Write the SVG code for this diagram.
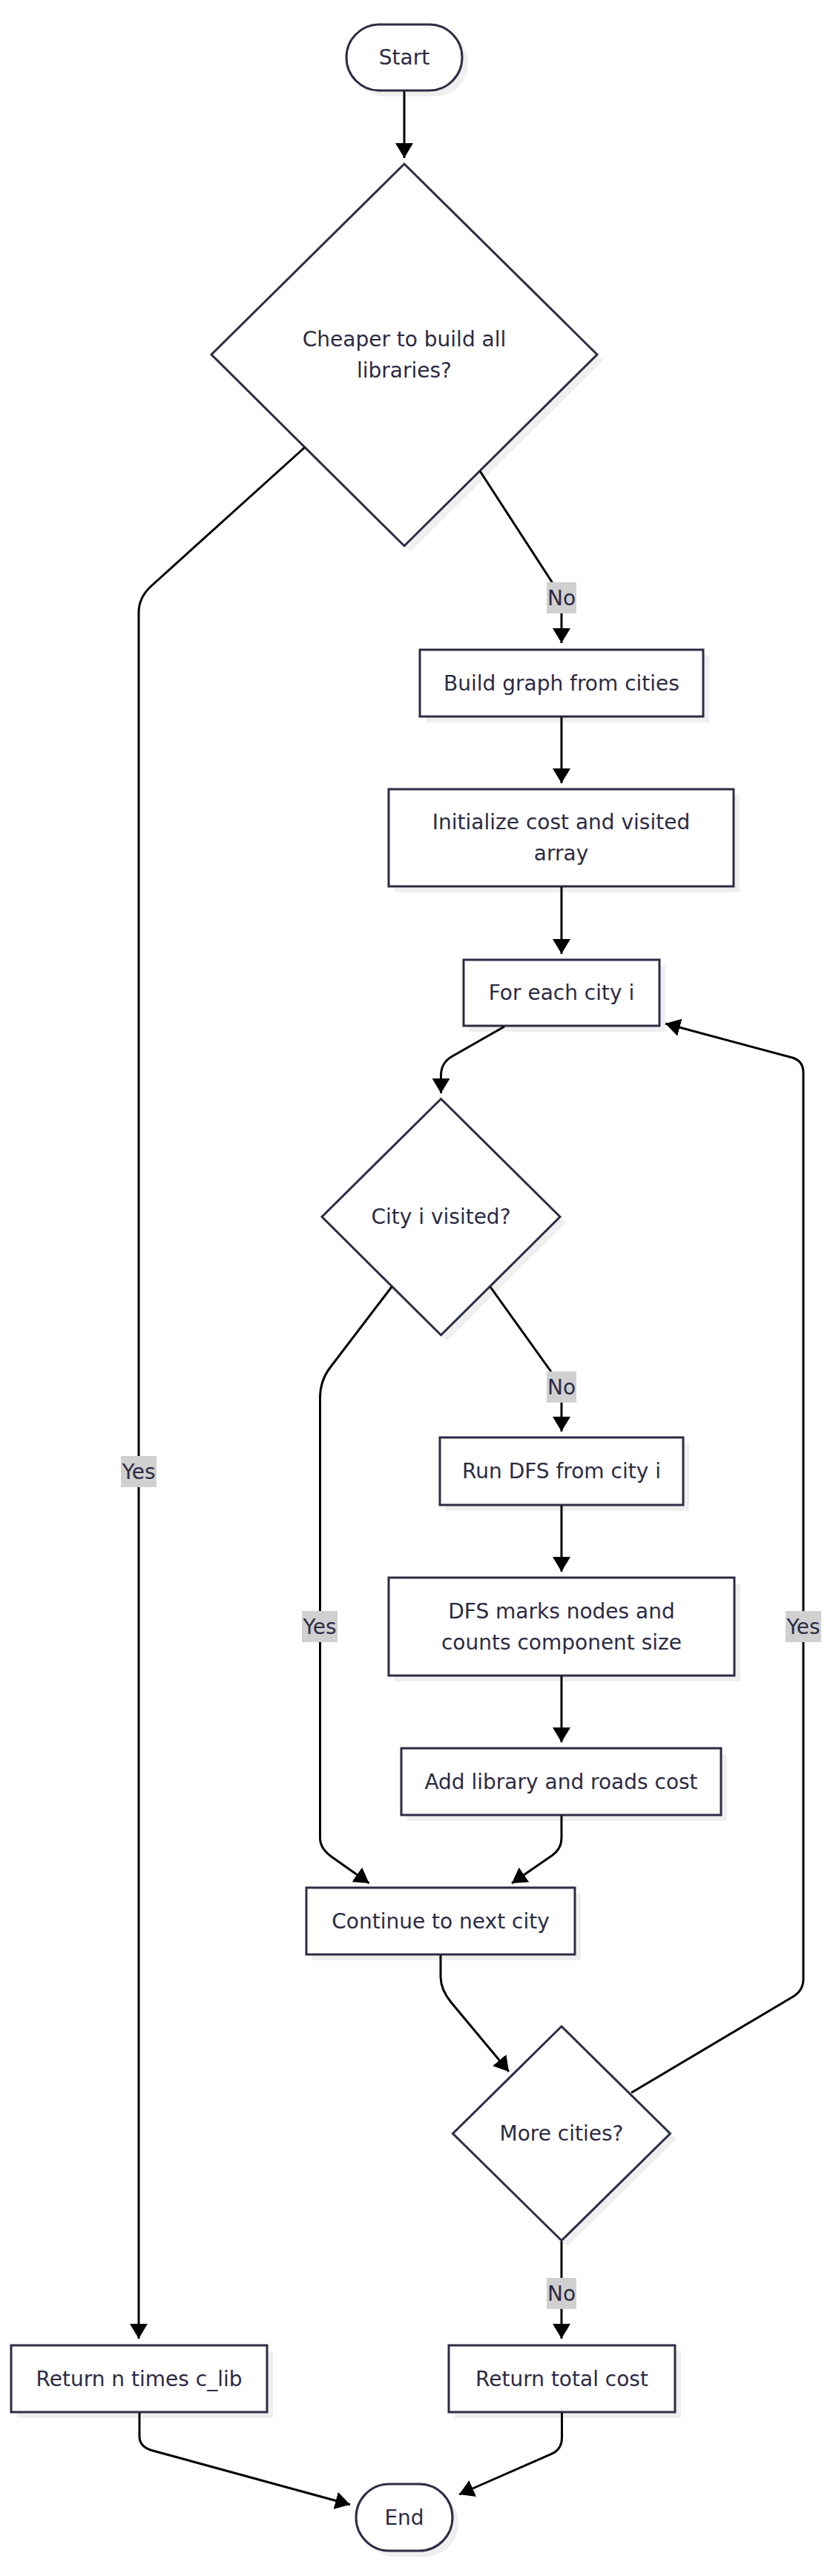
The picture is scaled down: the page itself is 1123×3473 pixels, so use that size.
<svg xmlns="http://www.w3.org/2000/svg" width="1123" height="3473" viewBox="0 0 1123 3473">
<style>
.sh{fill:#efefef;stroke:none}
.nd{fill:#ffffff;stroke:#2c2c46;stroke-width:3}
.tx{font-family:"DejaVu Sans",sans-serif;font-size:28px;fill:#2b2b45;text-anchor:middle}
.ed{fill:none;stroke:#000;stroke-width:3}
.lb{fill:#d0d0d0}
.lt{font-family:"DejaVu Sans",sans-serif;font-size:28px;fill:#2b2b45;text-anchor:middle}
</style>
<defs>
<marker id="ah" markerUnits="userSpaceOnUse" viewBox="0 0 20 24" markerWidth="20" markerHeight="24" refX="20" refY="12" orient="auto">
<path d="M0,0 L20,12 L0,24 z" fill="#000"/>
</marker>
</defs>
<rect width="1123" height="3473" fill="#ffffff"/>

<g id="start">
<rect class="sh" x="475" y="41" width="156" height="89" rx="44.5"/>
<rect class="nd" x="467" y="33" width="156" height="89" rx="44.5"/>
<text class="tx" x="545" y="87">Start</text>
</g>

<g id="cheaper">
<polygon class="sh" points="553,229 813,486 553,744 293,486"/>
<polygon class="nd" points="545,221 805,478 545,736 285,478"/>
<text class="tx" x="545" y="466.5">Cheaper to build all</text>
<text class="tx" x="545" y="508.5">libraries?</text>
</g>

<g id="build-graph">
<rect class="sh" x="574" y="884" width="382" height="90"/>
<rect class="nd" x="566" y="876" width="382" height="90"/>
<text class="tx" x="757" y="930.5">Build graph from cities</text>
</g>

<g id="init">
<rect class="sh" x="532" y="1072" width="465" height="131"/>
<rect class="nd" x="524" y="1064" width="465" height="131"/>
<text class="tx" x="756.5" y="1118">Initialize cost and visited</text>
<text class="tx" x="756.5" y="1160">array</text>
</g>

<g id="for-each">
<rect class="sh" x="633" y="1302" width="264" height="89"/>
<rect class="nd" x="625" y="1294" width="264" height="89"/>
<text class="tx" x="757" y="1348">For each city i</text>
</g>

<g id="visited">
<polygon class="sh" points="602.5,1489.5 763,1648.5 602.5,1808 442,1648.5"/>
<polygon class="nd" points="594.5,1481.5 755,1640.5 594.5,1800 434,1640.5"/>
<text class="tx" x="594.5" y="1650">City i visited?</text>
</g>

<g id="run-dfs">
<rect class="sh" x="601" y="1946" width="328" height="91"/>
<rect class="nd" x="593" y="1938" width="328" height="91"/>
<text class="tx" x="757" y="1993">Run DFS from city i</text>
</g>

<g id="dfs-marks">
<rect class="sh" x="532" y="2135" width="466" height="132"/>
<rect class="nd" x="524" y="2127" width="466" height="132"/>
<text class="tx" x="757" y="2181.5">DFS marks nodes and</text>
<text class="tx" x="757" y="2223.5">counts component size</text>
</g>

<g id="add-cost">
<rect class="sh" x="549" y="2365" width="431" height="90"/>
<rect class="nd" x="541" y="2357" width="431" height="90"/>
<text class="tx" x="756.5" y="2411.5">Add library and roads cost</text>
</g>

<g id="continue">
<rect class="sh" x="421" y="2553" width="362" height="90"/>
<rect class="nd" x="413" y="2545" width="362" height="90"/>
<text class="tx" x="594" y="2599.5">Continue to next city</text>
</g>

<g id="more-cities">
<polygon class="sh" points="765,2740 911.5,2884.5 765,3028.7 618.5,2884.5"/>
<polygon class="nd" points="757,2732 903.5,2876.5 757,3020.7 610.5,2876.5"/>
<text class="tx" x="757" y="2886">More cities?</text>
</g>

<g id="return-lib">
<rect class="sh" x="23" y="3170" width="345" height="90"/>
<rect class="nd" x="15" y="3162" width="345" height="90"/>
<text class="tx" x="187.5" y="3216.5">Return n times c_lib</text>
</g>

<g id="return-total">
<rect class="sh" x="613" y="3170" width="305" height="90"/>
<rect class="nd" x="605" y="3162" width="305" height="90"/>
<text class="tx" x="757.5" y="3216.5">Return total cost</text>
</g>

<g id="end">
<rect class="sh" x="488" y="3357" width="130" height="90" rx="45"/>
<rect class="nd" x="480" y="3349" width="130" height="90" rx="45"/>
<text class="tx" x="545" y="3403.5">End</text>
</g>

<g id="connectors">
<path class="ed" marker-end="url(#ah)" d="M545,123 L545,213"/>
<path class="ed" marker-end="url(#ah)" d="M411,603 L204,790 Q187,805.4 187,826 L187,3153"/>
<path class="ed" marker-end="url(#ah)" d="M647,635 L743,783 Q757,805 757,822 L757,867"/>
<path class="ed" marker-end="url(#ah)" d="M757,967 L757,1056"/>
<path class="ed" marker-end="url(#ah)" d="M757,1196 L757,1286"/>
<path class="ed" marker-end="url(#ah)" d="M680,1384 L609,1424.5 Q594.5,1433 594.5,1450 L594.5,1474"/>
<path class="ed" marker-end="url(#ah)" d="M528,1735 L445.6,1843 Q431.5,1861 431.5,1885 L431.5,2478 Q431.5,2492 446.6,2503 L497.6,2539"/>
<path class="ed" marker-end="url(#ah)" d="M661,1735 L742,1848 Q757,1869 757,1885 L757,1930"/>
<path class="ed" marker-end="url(#ah)" d="M757,2030 L757,2119"/>
<path class="ed" marker-end="url(#ah)" d="M757,2260 L757,2349"/>
<path class="ed" marker-end="url(#ah)" d="M757,2448 L757,2478 Q757,2492.6 744,2501.7 L690,2539"/>
<path class="ed" marker-end="url(#ah)" d="M594,2636 L594,2665 Q594,2682.5 608.5,2700 L686,2793"/>
<path class="ed" marker-end="url(#ah)" d="M851,2821.5 L1069,2692 Q1083,2683.7 1083,2668 L1083,1446 Q1083,1430 1067.5,1425.8 L897,1380"/>
<path class="ed" marker-end="url(#ah)" d="M757,3022 L757,3153"/>
<path class="ed" marker-end="url(#ah)" d="M188,3253 L188,3285 Q188,3299 206,3304 L472,3376.7"/>
<path class="ed" marker-end="url(#ah)" d="M757.5,3253 L757.5,3287 Q757.5,3302.4 743,3308.7 L619,3363"/>
<g id="edge-labels">
<rect class="lb" x="737" y="785" width="40" height="42"/><text class="lt" x="757" y="816">No</text>
<rect class="lb" x="163" y="1963" width="48" height="42"/><text class="lt" x="187" y="1994">Yes</text>
<rect class="lb" x="737" y="1849" width="40" height="42"/><text class="lt" x="757" y="1880">No</text>
<rect class="lb" x="407" y="2172" width="48" height="42"/><text class="lt" x="431" y="2203">Yes</text>
<rect class="lb" x="1059" y="2172" width="48" height="42"/><text class="lt" x="1083" y="2203">Yes</text>
<rect class="lb" x="737" y="3071" width="40" height="42"/><text class="lt" x="757" y="3102">No</text>
</g>
</g>
</svg>
